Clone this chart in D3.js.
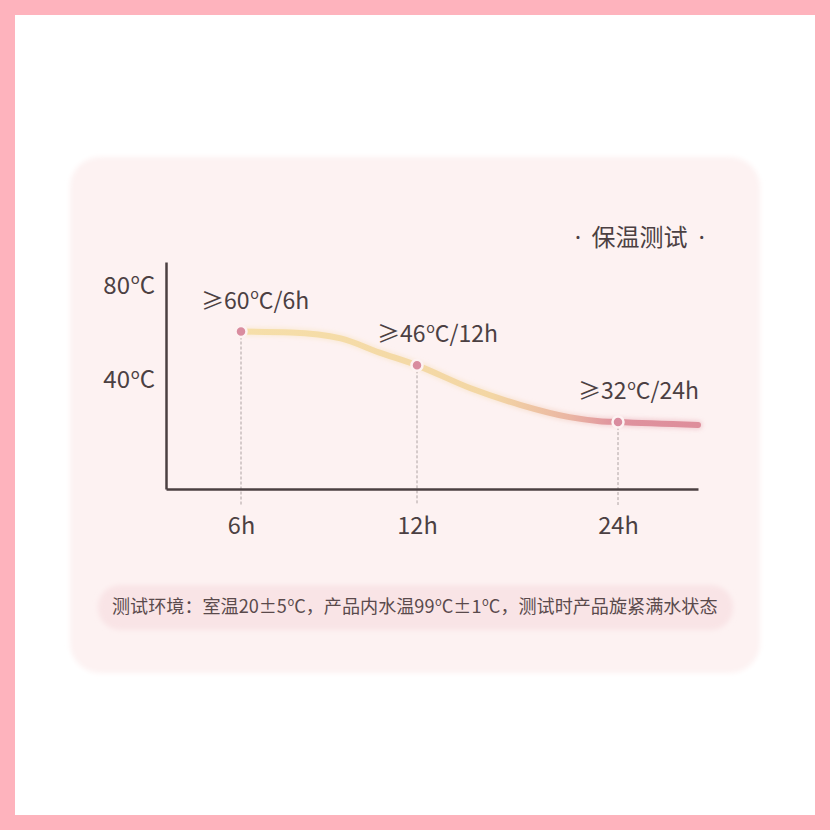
<!DOCTYPE html>
<html>
<head>
<meta charset="utf-8">
<script src="https://cdn.jsdelivr.net/npm/d3@7"></script>
<style>
  html, body { margin: 0; padding: 0; background: #fff; }
  svg { display: block; font-family: "Noto Sans CJK SC", "Noto Sans", sans-serif; }
</style>
</head>
<body>
<div id="app"></div>
<script>
// curve (hours -> °C on the drawn axis)
const curveHours = [6, 7.7, 9.4, 10.7, 12, 15.2, 18.2, 21.1, 22.9, 24, 28];
const curveTemps = [60.6, 60.2, 57.7, 51.8, 46.3, 36.6, 29.5, 24.4, 22.7, 22.3, 21.1];

// marked test points
const markHours = [6, 12, 24];
const markTemps = [60.6, 46.3, 22.3];
const markLabels = ["≥60°C/6h", "≥46°C/12h", "≥32°C/24h"];

const xTicks = [6, 12, 24];
const yTicks = [40, 80];
const title = "保温测试";
const note = "测试环境：室温20±5°C，产品内水温99°C±1°C，测试时产品旋紧满水状态";

const width = 830, height = 830;
const ink = "#4b4042";

const svg = d3.select("#app").append("svg")
  .attr("width", width)
  .attr("height", height)
  .attr("viewBox", [0, 0, width, height]);

// writes a string into a text node, the degree sign drawn as a small raised "o"
function degText(text, str, size) {
  text.text(null);
  const parts = str.split("°");
  const up = size * 0.4;
  parts.forEach((p, i) => {
    const t = text.append("tspan").text(p);
    if (i > 0) t.attr("dy", up);
    if (i < parts.length - 1) {
      text.append("tspan")
        .attr("font-size", size * 0.62)
        .attr("dy", -up)
        .attr("dx", size * 0.03)
        .text("o");
    }
  });
}

const defs = svg.append("defs");
defs.append("filter").attr("id", "soft")
  .attr("x", "-10%").attr("y", "-10%").attr("width", "120%").attr("height", "120%")
  .append("feGaussianBlur").attr("stdDeviation", 2.5);
defs.append("filter").attr("id", "glow")
  .append("feGaussianBlur").attr("stdDeviation", 2);

// pink frame
svg.append("rect").attr("width", width).attr("height", height).attr("fill", "#feb3bd");
svg.append("rect").attr("x", 15).attr("y", 15).attr("width", 800).attr("height", 800).attr("fill", "#fff");

// card
svg.append("rect")
  .attr("x", 70).attr("y", 157).attr("width", 690).attr("height", 516)
  .attr("rx", 30).attr("fill", "#fdf2f2").attr("filter", "url(#soft)");

// scales (x is piecewise, the drawn axis is not even in time)
const x = d3.scaleLinear().domain([0, 6, 12, 24, 28]).range([166, 241, 417, 618, 698]);
const y = d3.scaleLinear().domain([-6, 90]).range([489, 262]);

// title, dots set in the narrower latin face
const titleText = svg.append("text")
  .attr("x", 705).attr("y", 246)
  .attr("text-anchor", "end")
  .attr("font-size", 24).attr("fill", ink);
titleText.append("tspan").attr("font-family", "'Noto Sans', sans-serif").text("·");
titleText.append("tspan").attr("dx", 10.5).text(title);
titleText.append("tspan").attr("dx", 11).attr("font-family", "'Noto Sans', sans-serif").text("·");

// gradient along the curve
const grad = defs.append("linearGradient").attr("id", "lineGrad")
  .attr("gradientUnits", "userSpaceOnUse")
  .attr("x1", x(6)).attr("x2", x(28)).attr("y1", 0).attr("y2", 0);
[[0, "#f6dfa9"], [0.55, "#f3d6a4"], [0.72, "#eab5a3"], [0.82, "#df929e"], [1, "#de8e9b"]]
  .forEach(([o, c]) => grad.append("stop").attr("offset", o).attr("stop-color", c));

const curve = d3.range(curveHours.length).map(i => [curveHours[i], curveTemps[i]]);
const line = d3.line().x(d => x(d[0])).y(d => y(d[1])).curve(d3.curveMonotoneX);

// dashed drop lines
svg.append("g")
  .selectAll("line")
  .data(markHours)
  .join("line")
  .attr("x1", d => x(d)).attr("x2", d => x(d))
  .attr("y1", (d, i) => y(markTemps[i]))
  .attr("y2", 505)
  .attr("stroke", "#9a9090").attr("stroke-width", 0.8)
  .attr("stroke-dasharray", "3,2");

// axes
const yAxis = svg.append("g")
  .attr("transform", `translate(${x(0)},0)`)
  .call(d3.axisLeft(y).tickValues(yTicks).tickSize(0).tickPadding(11)
    .tickFormat(d => `${d}°C`));
const xAxis = svg.append("g")
  .attr("transform", `translate(0,${y(-6)})`)
  .call(d3.axisBottom(x).tickValues(xTicks).tickSize(0).tickPadding(28)
    .tickFormat(d => `${d}h`));
[yAxis, xAxis].forEach(g => {
  g.select(".domain").attr("stroke", ink).attr("stroke-width", 2.5);
  g.selectAll("text").attr("font-size", 23.5).attr("fill", ink)
    .attr("font-family", "'Noto Sans CJK SC', sans-serif");
});
yAxis.selectAll(".tick text")
  .attr("font-size", 24)
  .each(function(d) { degText(d3.select(this), `${d}°C`, 24); });

// curve with a faint glow
svg.append("path").datum(curve)
  .attr("fill", "none").attr("stroke", "url(#lineGrad)")
  .attr("stroke-width", 9).attr("stroke-opacity", 0.35)
  .attr("stroke-linecap", "round").attr("filter", "url(#glow)")
  .attr("d", line);
svg.append("path").datum(curve)
  .attr("fill", "none").attr("stroke", "url(#lineGrad)")
  .attr("stroke-width", 6).attr("stroke-linecap", "round")
  .attr("d", line);

// markers
svg.append("g")
  .selectAll("circle")
  .data(markHours)
  .join("circle")
  .attr("cx", d => x(d))
  .attr("cy", (d, i) => y(markTemps[i]))
  .attr("r", 5.5)
  .attr("fill", "#d98c9f")
  .attr("stroke", "#fdf2f2").attr("stroke-width", 2.5);

// point labels
svg.append("g")
  .selectAll("text")
  .data(markLabels)
  .join("text")
  .attr("x", (d, i) => x(markHours[i]) - 40)
  .attr("y", (d, i) => y(markTemps[i]) - 23)
  .attr("font-size", 23).attr("fill", ink)
  .each(function(d) { degText(d3.select(this), d, 23); });

// footnote band
svg.append("rect")
  .attr("x", 98).attr("y", 585).attr("width", 635).attr("height", 45)
  .attr("rx", 22).attr("fill", "#f9e4e6").attr("filter", "url(#soft)");
const noteText = svg.append("text")
  .attr("x", 112).attr("y", 613)
  .attr("font-size", 18.1).attr("fill", "#5a4a4c");
degText(noteText, note, 18.1);
</script>
</body>
</html>
